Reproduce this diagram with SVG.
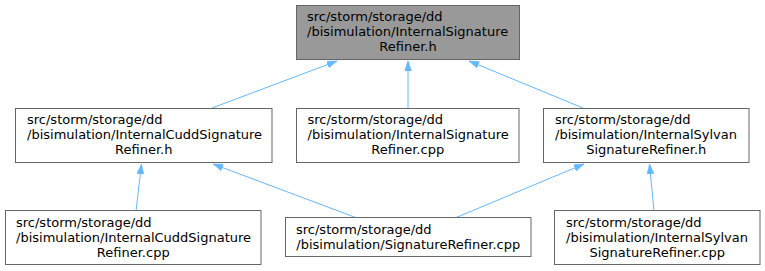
<svg xmlns="http://www.w3.org/2000/svg" width="765" height="271" viewBox="0 0 765 271">
  <style>
    .box { fill: #ffffff; stroke: #666666; stroke-width: 1; }
    .box.root { fill: #999999; }
    .lbl { font-family: "DejaVu Sans", "Liberation Sans", sans-serif; font-size: 13px; fill: #000000; }
    .mid { text-anchor: middle; }
    .edge { fill: none; stroke: #63b8ff; stroke-width: 1; marker-end: url(#arrow); }
  </style>
  <defs>
    <marker id="arrow" markerUnits="userSpaceOnUse" markerWidth="11" markerHeight="8" refX="10" refY="3.5" orient="auto">
      <path d="M0,0 L10,3.5 L0,7 Z" fill="#63b8ff" stroke="#63b8ff" stroke-width="0.5"/>
    </marker>
  </defs>
  <rect width="765" height="271" fill="#ffffff"/>

  <g id="connectors">
    <line class="edge" x1="212" y1="108" x2="337" y2="61"/>
    <line class="edge" x1="408" y1="108" x2="408" y2="61"/>
    <line class="edge" x1="583" y1="108" x2="469" y2="61"/>
    <line class="edge" x1="136" y1="211" x2="141.5" y2="164"/>
    <line class="edge" x1="357" y1="218" x2="213" y2="164"/>
    <line class="edge" x1="455" y1="218" x2="584" y2="164"/>
    <line class="edge" x1="654" y1="211" x2="649.5" y2="164"/>
  </g>

  <g id="node-internal-signature-refiner-h">
    <rect class="box root" x="296.5" y="5.5" width="223" height="54"/>
    <text class="lbl" x="307" y="21">src/storm/storage/dd</text>
    <text class="lbl" x="307" y="36">/bisimulation/InternalSignature</text>
    <text class="lbl mid" x="408" y="51">Refiner.h</text>
  </g>

  <g id="node-internal-cudd-signature-refiner-h">
    <rect class="box" x="15.5" y="108.5" width="256.5" height="54"/>
    <text class="lbl" x="27" y="124">src/storm/storage/dd</text>
    <text class="lbl" x="27" y="139">/bisimulation/InternalCuddSignature</text>
    <text class="lbl mid" x="143.75" y="154">Refiner.h</text>
  </g>

  <g id="node-internal-signature-refiner-cpp">
    <rect class="box" x="296.5" y="108.5" width="222.5" height="54"/>
    <text class="lbl" x="307.5" y="124">src/storm/storage/dd</text>
    <text class="lbl" x="307.5" y="139">/bisimulation/InternalSignature</text>
    <text class="lbl mid" x="407.75" y="154">Refiner.cpp</text>
  </g>

  <g id="node-internal-sylvan-signature-refiner-h">
    <rect class="box" x="543.5" y="108.5" width="205.5" height="54"/>
    <text class="lbl" x="555" y="124">src/storm/storage/dd</text>
    <text class="lbl" x="555" y="139">/bisimulation/InternalSylvan</text>
    <text class="lbl mid" x="646.25" y="154">SignatureRefiner.h</text>
  </g>

  <g id="node-internal-cudd-signature-refiner-cpp">
    <rect class="box" x="5.5" y="210.5" width="255.5" height="54"/>
    <text class="lbl" x="16" y="227">src/storm/storage/dd</text>
    <text class="lbl" x="16" y="242">/bisimulation/InternalCuddSignature</text>
    <text class="lbl mid" x="133.25" y="257">Refiner.cpp</text>
  </g>

  <g id="node-signature-refiner-cpp">
    <rect class="box" x="285.5" y="217.5" width="245.5" height="39"/>
    <text class="lbl" x="296" y="234">src/storm/storage/dd</text>
    <text class="lbl mid" x="408.25" y="249">/bisimulation/SignatureRefiner.cpp</text>
  </g>

  <g id="node-internal-sylvan-signature-refiner-cpp">
    <rect class="box" x="554.5" y="210.5" width="205.5" height="54"/>
    <text class="lbl" x="566" y="227">src/storm/storage/dd</text>
    <text class="lbl" x="566" y="242">/bisimulation/InternalSylvan</text>
    <text class="lbl mid" x="657.25" y="257">SignatureRefiner.cpp</text>
  </g>
</svg>
